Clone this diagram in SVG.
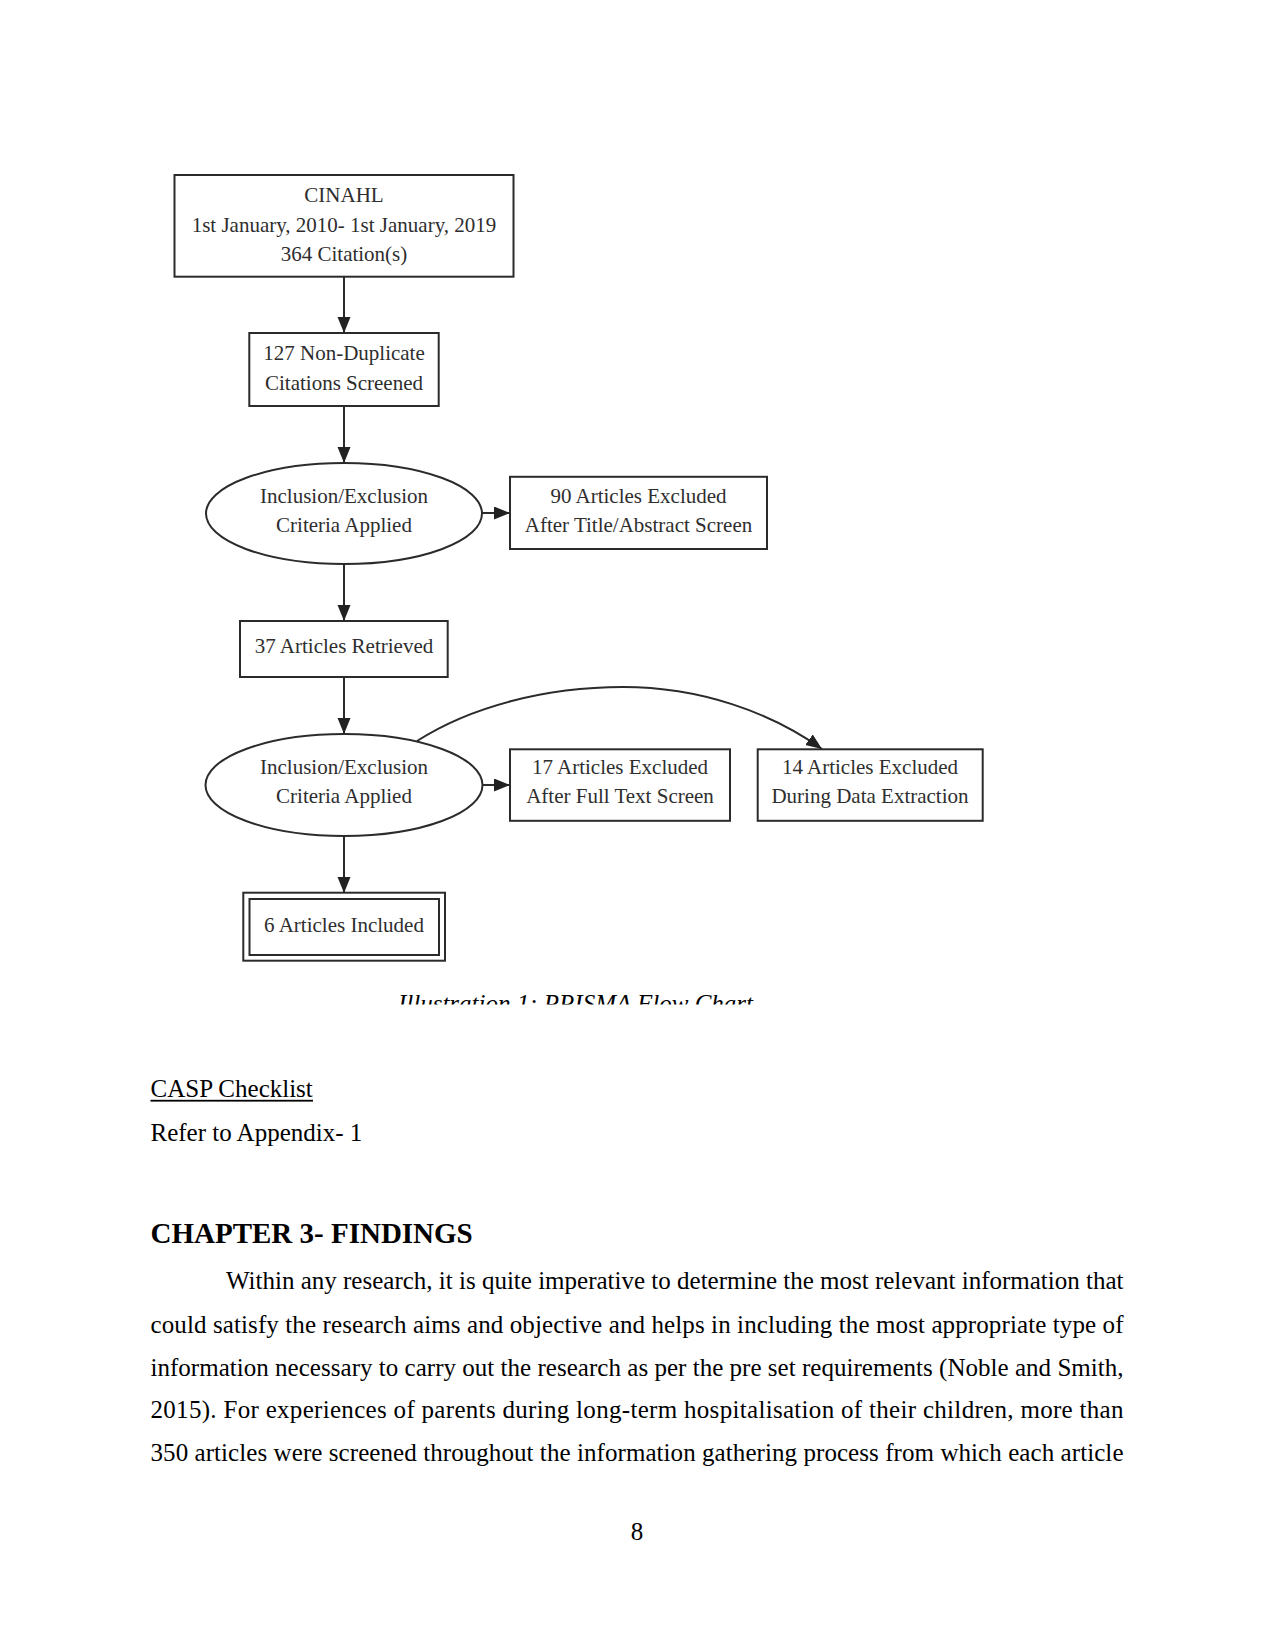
<svg xmlns="http://www.w3.org/2000/svg" width="1275" height="1650" viewBox="0 0 1275 1650">
<style>
.box{fill:#fff;stroke:#2b2b2b;stroke-width:2}
.edge{fill:none;stroke:#2b2b2b;stroke-width:2}
.nt{font-family:"Liberation Serif","Times New Roman",serif;font-size:21px;fill:#2e2e2e;text-anchor:middle}
.body{font-family:"Liberation Serif","Times New Roman",serif;font-size:25px;fill:#000}
.cap{font-family:"Liberation Serif","Times New Roman",serif;font-size:25px;font-style:italic;fill:#000;text-anchor:middle}
</style>
<defs>
<marker id="ah" markerUnits="userSpaceOnUse" markerWidth="17" markerHeight="14" refX="16" refY="6.5" orient="auto">
<path d="M0,0 L16,6.5 L0,13 Z" fill="#222"/>
</marker>
<clipPath id="capclip"><rect x="0" y="980" width="1275" height="24.5"/></clipPath>
</defs>
<rect width="1275" height="1650" fill="#fff"/>

<g id="connectors">
<line class="edge" x1="344" y1="277" x2="344" y2="333" marker-end="url(#ah)"/>
<line class="edge" x1="344" y1="406" x2="344" y2="463" marker-end="url(#ah)"/>
<line class="edge" x1="482" y1="513" x2="510" y2="513" marker-end="url(#ah)"/>
<line class="edge" x1="344" y1="564" x2="344" y2="621" marker-end="url(#ah)"/>
<line class="edge" x1="344" y1="677" x2="344" y2="734" marker-end="url(#ah)"/>
<line class="edge" x1="483" y1="785" x2="510" y2="785" marker-end="url(#ah)"/>
<path class="edge" d="M417,741 C470,707 545,687 623,687 C700,687 770,712 822,749" marker-end="url(#ah)"/>
<line class="edge" x1="344" y1="836" x2="344" y2="893" marker-end="url(#ah)"/>
</g>

<g id="n-cinahl">
<rect class="box" x="174.5" y="175" width="339" height="101.7"/>
<text class="nt" x="344" y="201.7">CINAHL</text>
<text class="nt" x="344" y="231.7">1st January, 2010- 1st January, 2019</text>
<text class="nt" x="344" y="260.5">364 Citation(s)</text>
</g>
<g id="n-127">
<rect class="box" x="249.3" y="333" width="189.4" height="73"/>
<text class="nt" x="344" y="359.5">127 Non-Duplicate</text>
<text class="nt" x="344" y="389.5">Citations Screened</text>
</g>
<g id="n-criteria1">
<ellipse class="box" cx="344" cy="513.5" rx="138" ry="50.5"/>
<text class="nt" x="344" y="503.3">Inclusion/Exclusion</text>
<text class="nt" x="344" y="531.7">Criteria Applied</text>
</g>
<g id="n-90">
<rect class="box" x="510" y="476.8" width="257" height="72.2"/>
<text class="nt" x="638.5" y="503.3">90 Articles Excluded</text>
<text class="nt" x="638.5" y="531.7">After Title/Abstract Screen</text>
</g>
<g id="n-37">
<rect class="box" x="240" y="621" width="207.7" height="56"/>
<text class="nt" x="344" y="653.3">37 Articles Retrieved</text>
</g>
<g id="n-criteria2">
<ellipse class="box" cx="344" cy="785" rx="138.5" ry="51"/>
<text class="nt" x="344" y="774">Inclusion/Exclusion</text>
<text class="nt" x="344" y="803">Criteria Applied</text>
</g>
<g id="n-17">
<rect class="box" x="510" y="749.3" width="220" height="71.5"/>
<text class="nt" x="620" y="774">17 Articles Excluded</text>
<text class="nt" x="620" y="803">After Full Text Screen</text>
</g>
<g id="n-14">
<rect class="box" x="757.7" y="749.3" width="225" height="71.5"/>
<text class="nt" x="870" y="774">14 Articles Excluded</text>
<text class="nt" x="870" y="803">During Data Extraction</text>
</g>
<g id="n-6">
<rect class="box" x="243.3" y="892.7" width="201.7" height="68"/>
<rect class="box" x="249.5" y="899" width="189.5" height="56"/>
<text class="nt" x="344" y="931.7">6 Articles Included</text>
</g>

<g clip-path="url(#capclip)">
<text class="cap" x="575.5" y="1012">Illustration 1: PRISMA Flow Chart</text>
</g>

<text class="body" x="150.5" y="1096.7">CASP Checklist</text>
<rect x="150.5" y="1099.8" width="162.5" height="1.8" fill="#000"/>
<text class="body" x="150.5" y="1140.7">Refer to Appendix- 1</text>
<text class="body" x="150.5" y="1242.7" style="font-weight:bold;font-size:29px">CHAPTER 3- FINDINGS</text>

<text class="body" x="226" y="1289.3" textLength="897.5" lengthAdjust="spacing">Within any research, it is quite imperative to determine the most relevant information that</text>
<text class="body" x="150.5" y="1332.7" textLength="973" lengthAdjust="spacing">could satisfy the research aims and objective and helps in including the most appropriate type of</text>
<text class="body" x="150.5" y="1375.7" textLength="973" lengthAdjust="spacing">information necessary to carry out the research as per the pre set requirements (Noble and Smith,</text>
<text class="body" x="150.5" y="1418.3" textLength="973" lengthAdjust="spacing">2015). For experiences of parents during long-term hospitalisation of their children, more than</text>
<text class="body" x="150.5" y="1461.3" textLength="973" lengthAdjust="spacing">350 articles were screened throughout the information gathering process from which each article</text>

<text class="body" x="637" y="1540" text-anchor="middle">8</text>
</svg>
